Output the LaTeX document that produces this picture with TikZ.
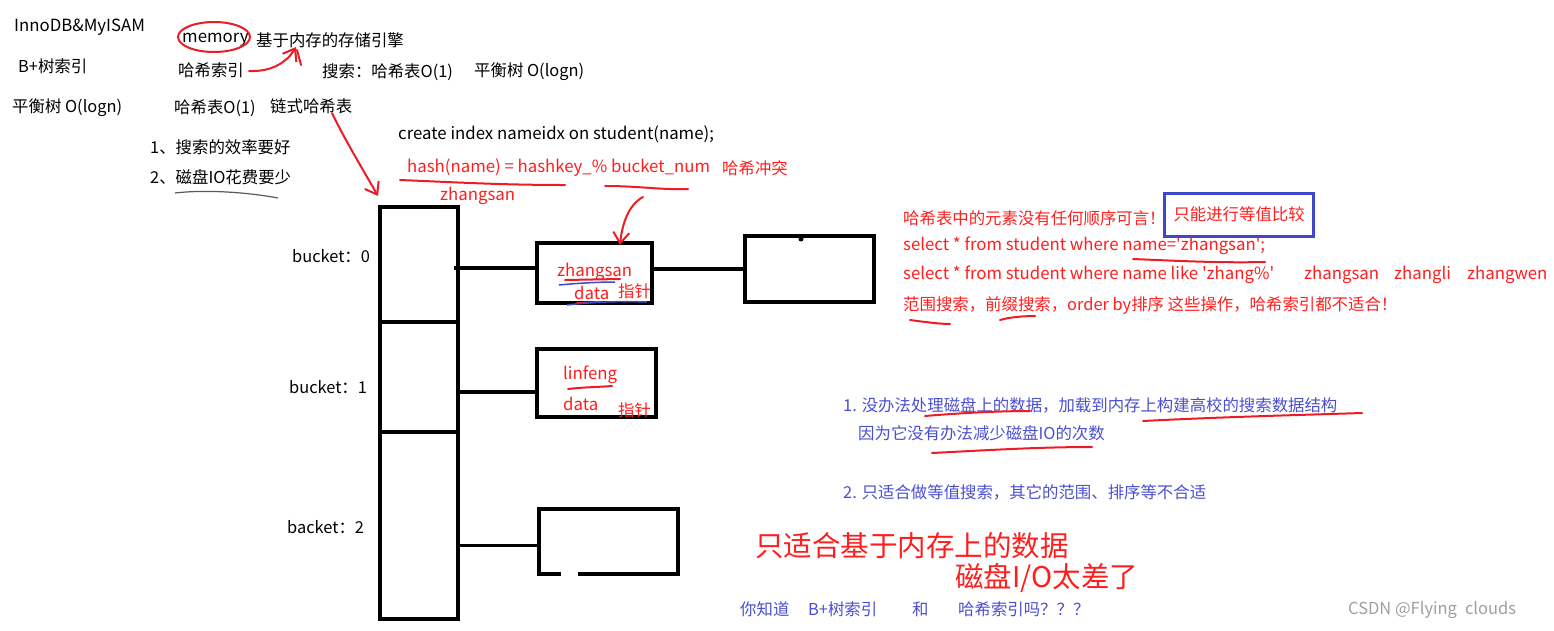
\documentclass[tikz,border=0pt]{standalone}
\usepackage{fontspec}
\usepackage{xcolor}
\usetikzlibrary{arrows.meta,positioning,calc}
\newfontfamily\cjk{Noto Sans CJK SC}

\definecolor{inkred}{HTML}{ED1C24}
\definecolor{notered}{HTML}{FF1E1E}
\definecolor{inkblue}{HTML}{3F48CC}
\definecolor{noteblue}{HTML}{4A4FD0}

\tikzset{
  txt/.style={anchor=west, inner sep=0pt, font=\cjk\fontsize{16.4}{19}\selectfont},
  latin/.style={txt, font=\cjk\fontsize{16.8}{19}\selectfont},
  redtxt/.style={txt, text=notered},
  redlatin/.style={latin, text=notered},
  bluetxt/.style={txt, text=noteblue},
  bigred/.style={anchor=west, inner sep=0pt, text=notered, font=\cjk\fontsize{28.5}{32}\selectfont},
  cell/.style={draw, line width=4pt, minimum width=78pt, inner sep=0pt},
  slot/.style={draw, line width=4pt, inner sep=0pt},
  link/.style={line width=3.5pt},
  scribble/.style={inkred, line width=2pt, line cap=round},
  barb/.style={scribble, -{Straight Barb[length=11pt, width=16pt, line width=2pt]}}
}

\begin{document}
\begin{tikzpicture}[x=1pt, y=-1pt]
\useasboundingbox (0,0) rectangle (1554,630);

% Top left notes
\node[latin] (engines) at (14,27) {InnoDB\&MyISAM};
\node[latin] (mem) at (182,40) {memory};
\node[txt] (memdesc) at (256,40) {基于内存的存储引擎};
\node[txt] (btree) at (18,66) {B+树索引};
\node[txt] (hashidx) at (178,70) {哈希索引};
\node[txt] (search) at (322,72) {搜索：哈希表O(1)};
\node[txt] (searchtree) at (474,72) {平衡树 O(logn)};
\node[txt] (btreecost) at (12,108) {平衡树 O(logn)};
\node[txt] (hashcost) at (174,108) {哈希表O(1)};
\node[txt] (chain) at (270,106) {链式哈希表};
\node[txt] (goal1) at (150,147) {1、搜索的效率要好};
\node[txt] (goal2) at (150,177) {2、磁盘IO花费要少};

% Red marks round memory
\draw[scribble] (214,37) ellipse (36 and 15);
\draw[barb] (249,71) .. controls (272,72) and (287,62) .. (296,47);
\draw[scribble] (297,50) -- (301,65);
\draw[gray!70!black, line width=1.2pt] (175,193) .. controls (200,190) and (240,191) .. (278,198);

% Index and hash function
\node[latin] (create) at (398,134) {create index nameidx on student(name);};
\node[redlatin] (hashfn) at (407,168) {hash(name) = hashkey\_\% bucket\_num};
\node[redtxt] (clash) at (722,168) {哈希冲突};
\node[redlatin] (key) at (440,196) {zhangsan};
\draw[scribble] (400,180) .. controls (450,182) and (500,185) .. (565,185);
\draw[scribble] (605,186) .. controls (640,186) and (660,190) .. (688,189);

% Bucket array
\node[cell, minimum height=115pt] (cell0) at (419,264.5) {};
\node[cell, minimum height=110pt] (cell1) at (419,377) {};
\node[cell, minimum height=187pt] (cell2) at (419,525.5) {};
\node[txt] (lb0) at (292,256) {bucket：0};
\node[txt] (lb1) at (289,387) {bucket：1};
\node[txt] (lb2) at (287,527) {backet：2};

% Chained entries
\node[slot, minimum width=115pt, minimum height=60pt] (b0) at (594.5,273) {};
\node[slot, minimum width=129pt, minimum height=66pt] (r0) at (809.5,269) {};
\node[slot, minimum width=119pt, minimum height=68pt] (b1) at (596.5,383) {};
\node[inner sep=0pt, minimum width=139pt, minimum height=65pt] (b2) at (608.5,541.5) {};
\draw[slot, line join=miter] ($(b2.south west)+(22,0)$) -- (b2.south west) -- (b2.north west)
  -- (b2.north east) -- (b2.south east) -- ($(b2.south west)+(39,0)$);
\fill (801,239) circle (2.5);

\draw[link] ([xshift=-6pt, yshift=5pt]b0.west -| cell0.east) -- ([yshift=5pt]b0.west);
\draw[link] (b0.east |- r0.west) -- (r0.west);
\draw[link] ([yshift=-9pt]b1.west -| cell1.east) -- ([yshift=-9pt]b1.west);
\draw[link] ([yshift=-4pt]b2.west -| cell2.east) -- ([yshift=-4pt]b2.west);

\node[redlatin] (k0) at (557,272) {zhangsan};
\node[redlatin] (d0) at (574,293) {data};
\node[redtxt] (p0) at (618,291) {指针};
\node[redlatin] (k1) at (563,375) {linfeng};
\node[redlatin] (d1) at (563,404) {data};
\node[redtxt] (p1) at (618,410) {指针};
\draw[scribble] (565,280) -- (620,279);
\draw[inkblue, line width=1.5pt] (559,285) .. controls (580,283) and (600,282) .. (615,282);
\draw[scribble] (577,303) -- (600,302);
\draw[inkblue, line width=1.5pt] (567,305) .. controls (590,302) and (620,301) .. (647,302);
\draw[scribble] (568,389) .. controls (585,387) and (600,387) .. (612,386);

% Arrows into the table
\draw[barb] (332,113) .. controls (345,140) and (362,168) .. (378,196);
\draw[barb] (643,197) .. controls (628,205) and (622,225) .. (620,245);

% Notes on the right
\node[redtxt] (noorder) at (903,218) {哈希表中的元素没有任何顺序可言！};
\node[redtxt, draw=inkblue, line width=3pt, inner xsep=9pt, minimum height=43pt] (eqonly) at (1163,214.5) {只能进行等值比较};
\node[redlatin] (sel1) at (903,246) {select * from student where name='zhangsan';};
\node[redlatin] (sel2) at (903,275) {select * from student where name like 'zhang\%'};
\node[redlatin] (ex1) at (1304,275) {zhangsan};
\node[redlatin] (ex2) at (1394,275) {zhangli};
\node[redlatin] (ex3) at (1467,275) {zhangwen};
\node[redtxt] (unfit) at (903,305) {范围搜索，前缀搜索，order by排序 这些操作，哈希索引都不适合！};
\draw[scribble] (1133,259) .. controls (1180,261) and (1220,263) .. (1265,262);
\draw[scribble] (910,320) .. controls (925,322) and (940,324) .. (950,324);
\draw[scribble] (1000,320) .. controls (1010,317) and (1025,316) .. (1035,316);

\node[bluetxt] (why1) at (843,405) {1. 没办法处理磁盘上的数据，加载到内存上构建高校的搜索数据结构};
\node[bluetxt] (why1b) at (858,433) {因为它没有办法减少磁盘IO的次数};
\node[bluetxt] (why2) at (843,492) {2. 只适合做等值搜索，其它的范围、排序等不合适};
\draw[scribble] (925,416) .. controls (960,413) and (1000,411) .. (1030,411);
\draw[scribble] (1143,421) .. controls (1220,417) and (1300,415) .. (1362,413);
\draw[scribble] (932,453) .. controls (990,450) and (1040,447) .. (1092,447);

% Bottom remarks
\node[bigred] (memonly) at (755,546) {只适合基于内存上的数据};
\node[bigred] (diskslow) at (955,578) {磁盘I/O太差了};
\node[bluetxt] (ask1) at (740,609) {你知道};
\node[bluetxt] (ask2) at (808,609) {B+树索引};
\node[bluetxt] (ask3) at (912,609) {和};
\node[bluetxt] (ask4) at (958,609) {哈希索引吗？？？};
\node[txt, text=gray!75, font=\cjk\fontsize{16.5}{18}\selectfont] (mark) at (1348,610) {CSDN @Flying\hspace{8pt}clouds};

\end{tikzpicture}
\end{document}
